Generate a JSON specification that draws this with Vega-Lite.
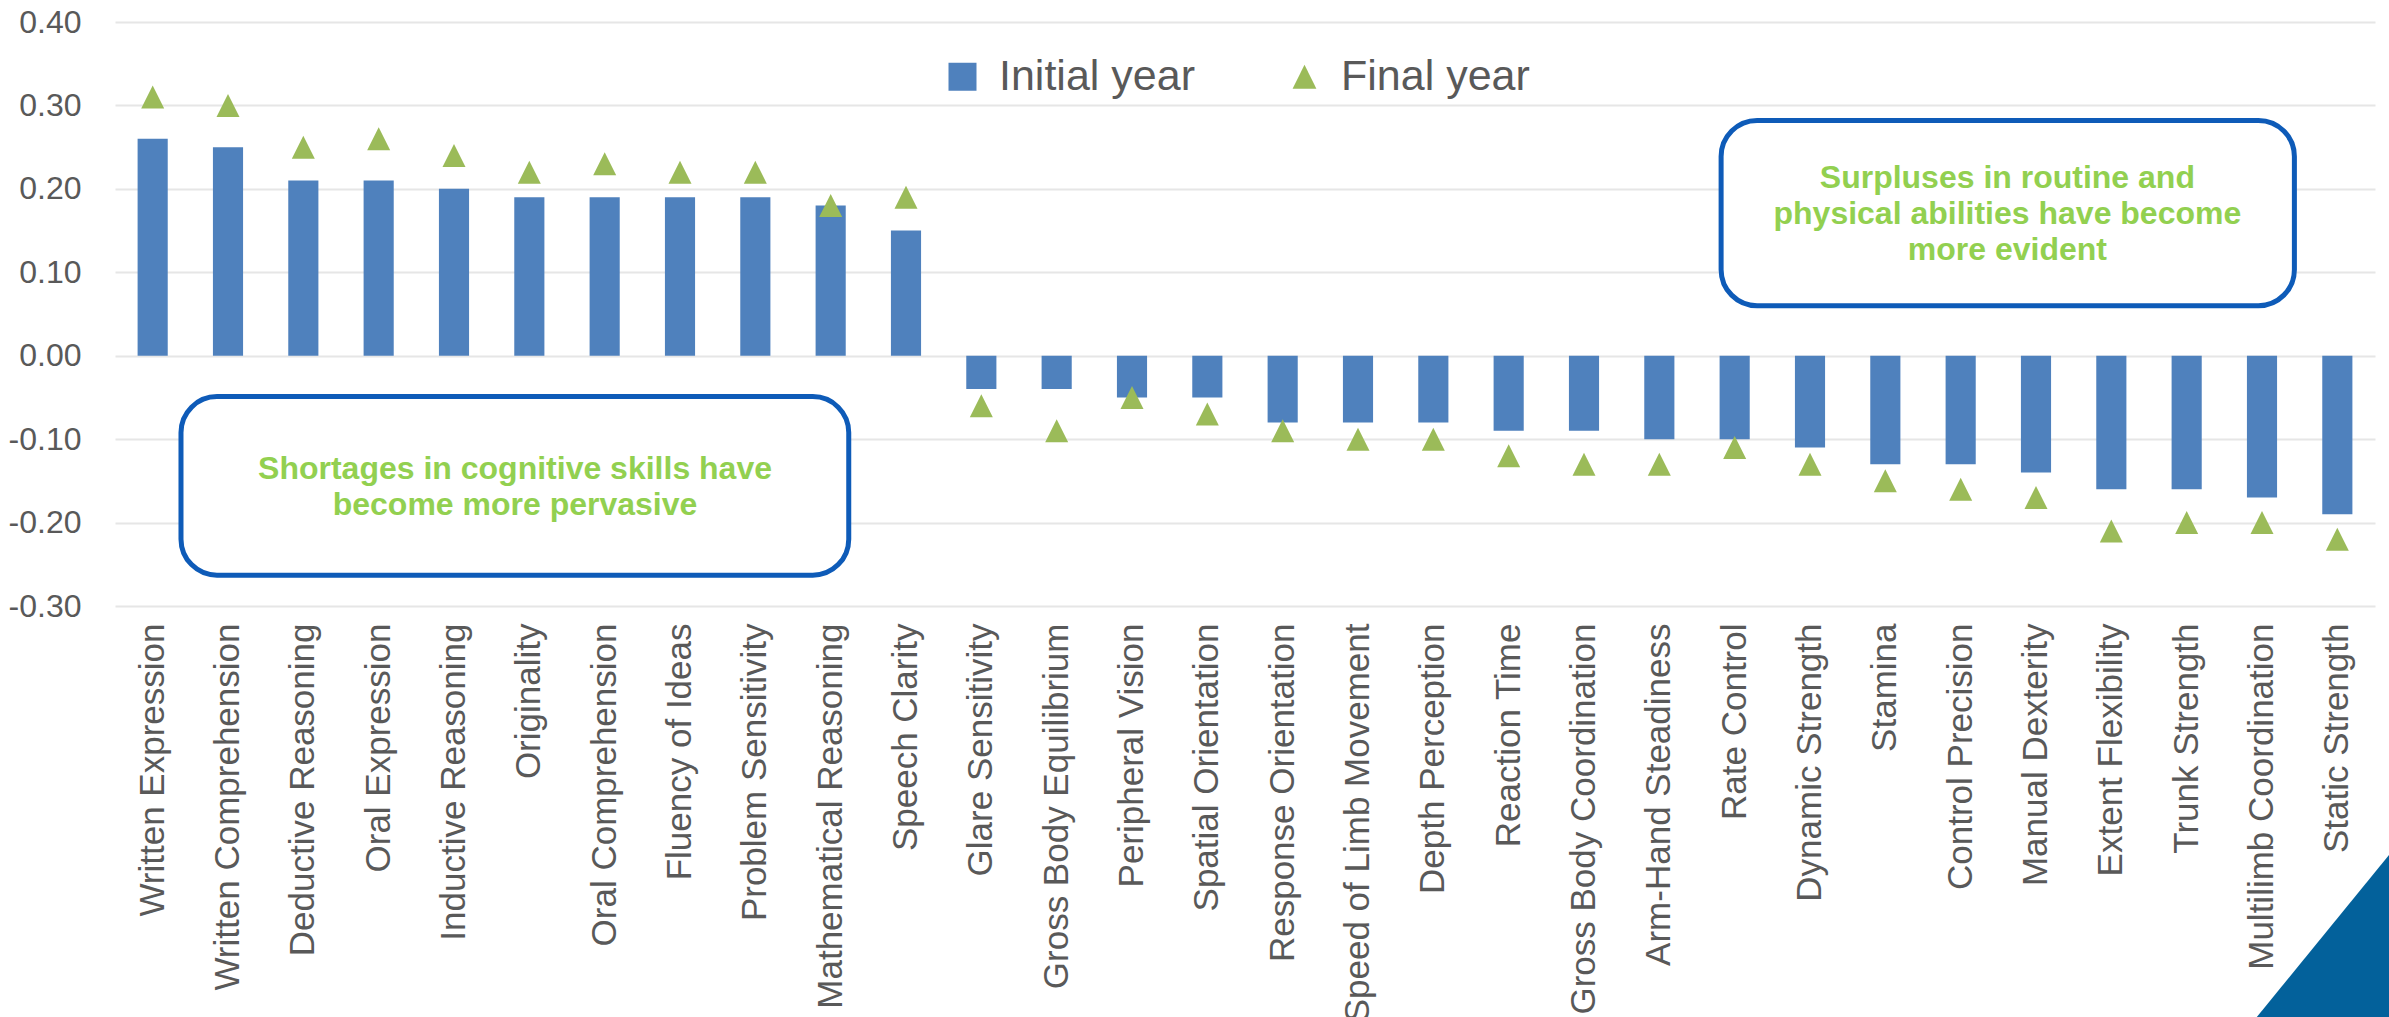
{
  "$schema": "https://vega.github.io/schema/vega-lite/v6.json",
  "autosize": "none",
  "width": 2260,
  "height": 584,
  "padding": {"left": 115, "top": 22, "right": 14, "bottom": 411},
  "background": "#ffffff",
  "config": {
    "view": {"stroke": null},
    "font": "Liberation Sans"
  },
  "datasets": {
    "abilities": [
      {"skill": "Written Expression", "series": "Initial year", "value": 0.26},
      {"skill": "Written Expression", "series": "Final year", "value": 0.31},
      {"skill": "Written Comprehension", "series": "Initial year", "value": 0.25},
      {"skill": "Written Comprehension", "series": "Final year", "value": 0.30},
      {"skill": "Deductive Reasoning", "series": "Initial year", "value": 0.21},
      {"skill": "Deductive Reasoning", "series": "Final year", "value": 0.25},
      {"skill": "Oral Expression", "series": "Initial year", "value": 0.21},
      {"skill": "Oral Expression", "series": "Final year", "value": 0.26},
      {"skill": "Inductive Reasoning", "series": "Initial year", "value": 0.20},
      {"skill": "Inductive Reasoning", "series": "Final year", "value": 0.24},
      {"skill": "Originality", "series": "Initial year", "value": 0.19},
      {"skill": "Originality", "series": "Final year", "value": 0.22},
      {"skill": "Oral Comprehension", "series": "Initial year", "value": 0.19},
      {"skill": "Oral Comprehension", "series": "Final year", "value": 0.23},
      {"skill": "Fluency of Ideas", "series": "Initial year", "value": 0.19},
      {"skill": "Fluency of Ideas", "series": "Final year", "value": 0.22},
      {"skill": "Problem Sensitivity", "series": "Initial year", "value": 0.19},
      {"skill": "Problem Sensitivity", "series": "Final year", "value": 0.22},
      {"skill": "Mathematical Reasoning", "series": "Initial year", "value": 0.18},
      {"skill": "Mathematical Reasoning", "series": "Final year", "value": 0.18},
      {"skill": "Speech Clarity", "series": "Initial year", "value": 0.15},
      {"skill": "Speech Clarity", "series": "Final year", "value": 0.19},
      {"skill": "Glare Sensitivity", "series": "Initial year", "value": -0.04},
      {"skill": "Glare Sensitivity", "series": "Final year", "value": -0.06},
      {"skill": "Gross Body Equilibrium", "series": "Initial year", "value": -0.04},
      {"skill": "Gross Body Equilibrium", "series": "Final year", "value": -0.09},
      {"skill": "Peripheral Vision", "series": "Initial year", "value": -0.05},
      {"skill": "Peripheral Vision", "series": "Final year", "value": -0.05},
      {"skill": "Spatial Orientation", "series": "Initial year", "value": -0.05},
      {"skill": "Spatial Orientation", "series": "Final year", "value": -0.07},
      {"skill": "Response Orientation", "series": "Initial year", "value": -0.08},
      {"skill": "Response Orientation", "series": "Final year", "value": -0.09},
      {"skill": "Speed of Limb Movement", "series": "Initial year", "value": -0.08},
      {"skill": "Speed of Limb Movement", "series": "Final year", "value": -0.10},
      {"skill": "Depth Perception", "series": "Initial year", "value": -0.08},
      {"skill": "Depth Perception", "series": "Final year", "value": -0.10},
      {"skill": "Reaction Time", "series": "Initial year", "value": -0.09},
      {"skill": "Reaction Time", "series": "Final year", "value": -0.12},
      {"skill": "Gross Body Coordination", "series": "Initial year", "value": -0.09},
      {"skill": "Gross Body Coordination", "series": "Final year", "value": -0.13},
      {"skill": "Arm-Hand Steadiness", "series": "Initial year", "value": -0.10},
      {"skill": "Arm-Hand Steadiness", "series": "Final year", "value": -0.13},
      {"skill": "Rate Control", "series": "Initial year", "value": -0.10},
      {"skill": "Rate Control", "series": "Final year", "value": -0.11},
      {"skill": "Dynamic Strength", "series": "Initial year", "value": -0.11},
      {"skill": "Dynamic Strength", "series": "Final year", "value": -0.13},
      {"skill": "Stamina", "series": "Initial year", "value": -0.13},
      {"skill": "Stamina", "series": "Final year", "value": -0.15},
      {"skill": "Control Precision", "series": "Initial year", "value": -0.13},
      {"skill": "Control Precision", "series": "Final year", "value": -0.16},
      {"skill": "Manual Dexterity", "series": "Initial year", "value": -0.14},
      {"skill": "Manual Dexterity", "series": "Final year", "value": -0.17},
      {"skill": "Extent Flexibility", "series": "Initial year", "value": -0.16},
      {"skill": "Extent Flexibility", "series": "Final year", "value": -0.21},
      {"skill": "Trunk Strength", "series": "Initial year", "value": -0.16},
      {"skill": "Trunk Strength", "series": "Final year", "value": -0.20},
      {"skill": "Multilimb Coordination", "series": "Initial year", "value": -0.17},
      {"skill": "Multilimb Coordination", "series": "Final year", "value": -0.20},
      {"skill": "Static Strength", "series": "Initial year", "value": -0.19},
      {"skill": "Static Strength", "series": "Final year", "value": -0.22}
    ],
    "notes": [
      {"left": 0.876, "right": 9.74, "top": -0.049, "bottom": -0.263, "mid": 5.31, "level": -0.136,
       "label": "Shortages in cognitive skills have\nbecome more pervasive"},
      {"left": 21.32, "right": 28.93, "top": 0.282, "bottom": 0.060, "mid": 25.12, "level": 0.213,
       "label": "Surpluses in routine and\nphysical abilities have become\nmore evident"}
    ],
    "corner": [
      {"pos": 28.41, "upper": -0.795, "lower": -0.795},
      {"pos": 30.2, "upper": -0.597, "lower": -0.795}
    ]
  },
  "layer": [
    {
      "data": {"name": "abilities"},
      "layer": [
        {
          "transform": [{"filter": "datum.series === 'Initial year'"}],
          "mark": {"type": "bar"},
          "encoding": {
            "x": {"field": "skill", "type": "nominal", "sort": null,
                  "scale": {"paddingInner": 0.6, "paddingOuter": 0.3},
                  "axis": {"title": null, "labelAngle": -90, "labelFont": "Liberation Sans",
                           "labelFontSize": 35, "labelColor": "#595959", "labelPadding": 17,
                           "ticks": false, "domain": false, "grid": false, "labelLimit": 0,
                           "labelOverlap": false, "labelBound": false, "labelFlush": false}},
            "y": {"field": "value", "type": "quantitative",
                  "scale": {"domain": [-0.3, 0.4], "nice": false, "zero": false},
                  "axis": {"title": null, "values": [-0.3, -0.2, -0.1, 0, 0.1, 0.2, 0.3, 0.4],
                           "labelExpr": "replace(format(datum.value, '.2f'), '\u2212', '-')",
                           "labelFont": "Liberation Sans", "labelFontSize": 32,
                           "labelColor": "#595959", "labelPadding": 34, "ticks": false,
                           "domain": false, "grid": true, "gridColor": "#e6e6e6", "gridWidth": 2,
                           "labelOverlap": false, "labelBound": false, "labelFlush": false}},
            "color": {"field": "series", "type": "nominal",
                      "scale": {"domain": ["Initial year", "Final year"], "range": ["#4f81bd", "#9bbb59"]},
                      "legend": {"title": null, "orient": "none", "legendX": 826, "legendY": 33,
                                 "direction": "horizontal", "padding": 0,
                                 "labelFont": "Liberation Sans", "labelFontSize": 43,
                                 "labelColor": "#595959", "labelOffset": 15, "columnPadding": 88,
                                 "symbolSize": 784, "symbolStrokeWidth": 0, "symbolOpacity": 1,
                                 "labelLimit": 0}}
          }
        },
        {
          "transform": [{"filter": "datum.series === 'Final year'"}],
          "mark": {"type": "point", "filled": true, "opacity": 1, "size": 732, "strokeWidth": 0},
          "encoding": {
            "x": {"field": "skill", "type": "nominal", "sort": null},
            "y": {"field": "value", "type": "quantitative"},
            "color": {"field": "series", "type": "nominal"},
            "shape": {"field": "series", "type": "nominal",
                      "scale": {"domain": ["Initial year", "Final year"],
                                "range": ["square", "M0,-0.85L0.85,0.85L-0.85,0.85Z"]}}
          }
        }
      ]
    },
    {
      "layer": [
        {
          "data": {"name": "notes"},
          "mark": {"type": "rect", "cornerRadius": 36, "fill": "#ffffff", "stroke": "#0e5bb8", "strokeWidth": 5},
          "encoding": {
            "x": {"field": "left", "type": "quantitative", "scale": {"domain": [0, 30], "nice": false, "zero": false}, "axis": null},
            "x2": {"field": "right"},
            "y": {"field": "top", "type": "quantitative"},
            "y2": {"field": "bottom"}
          }
        },
        {
          "data": {"name": "notes"},
          "mark": {"type": "text", "font": "Liberation Sans", "fontWeight": "bold", "fontSize": 32,
                   "color": "#92d050", "align": "center", "baseline": "middle", "lineBreak": "\n", "lineHeight": 36},
          "encoding": {
            "x": {"field": "mid", "type": "quantitative", "axis": null},
            "y": {"field": "level", "type": "quantitative"},
            "text": {"field": "label"}
          }
        },
        {
          "data": {"name": "corner"},
          "mark": {"type": "area", "color": "#03619b", "opacity": 1, "clip": false},
          "encoding": {
            "x": {"field": "pos", "type": "quantitative", "axis": null},
            "y": {"field": "upper", "type": "quantitative"},
            "y2": {"field": "lower"}
          }
        }
      ]
    }
  ],
  "resolve": {"scale": {"x": "independent"}}
}
